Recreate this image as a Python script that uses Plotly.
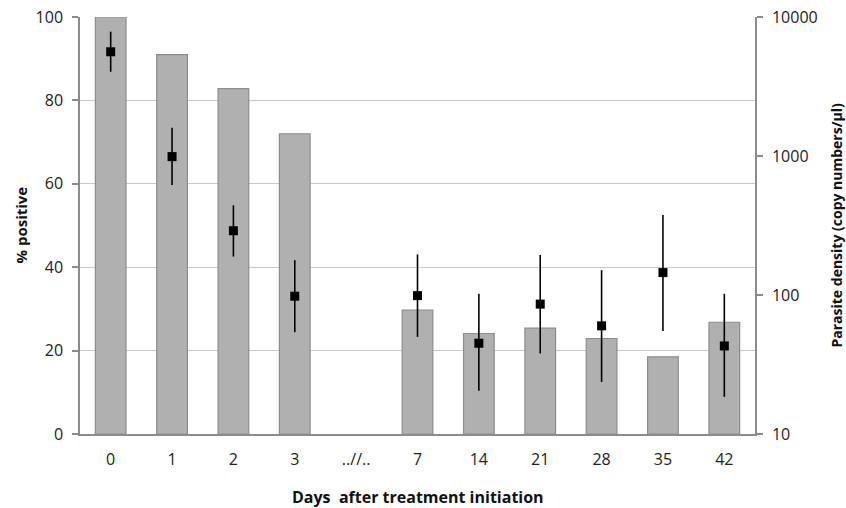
import plotly.graph_objects as go

days = ["0", "1", "2", "3", "..//..", "7", "14", "21", "28", "35", "42"]
pct_positive = [100, 91.0, 82.8, 72.0, None, 29.7, 24.1, 25.4, 22.9, 18.5, 26.8]
density = [5620, 990, 290, 98, None, 99, 45, 86, 60, 145, 43]
density_upper = [7840, 1600, 442, 178, None, 196, 102, 194, 151, 376, 102]
density_lower = [4040, 619, 189, 54, None, 50, 20.5, 38, 23.7, 55, 18.5]

err_plus = [None if d is None else u - d for d, u in zip(density, density_upper)]
err_minus = [None if d is None else d - l for d, l in zip(density, density_lower)]

font_family = "Open Sans, Liberation Sans, sans-serif"
L, R, T, B = 80, 91, 17, 74
W, H = 846, 508
pw, ph = W - L - R, H - T - B

fig = go.Figure()
fig.add_trace(go.Bar(
    x=days, y=pct_positive,
    marker=dict(color="#b0b0b0", line=dict(color="#8c8c8c", width=1.2)),
    yaxis="y", showlegend=False,
))
fig.add_trace(go.Scatter(
    x=days, y=density, mode="markers",
    marker=dict(symbol="square", size=9, color="black"),
    error_y=dict(type="data", symmetric=False, array=err_plus, arrayminus=err_minus,
                 color="black", thickness=1.6, width=0),
    yaxis="y2", showlegend=False,
))

fig.update_layout(
    width=W, height=H,
    margin=dict(l=L, r=R, t=T, b=B),
    paper_bgcolor="white", plot_bgcolor="white",
    bargap=0.5,
    font=dict(family=font_family, size=16, color="#222"),
    xaxis=dict(
        type="category", categoryorder="array", categoryarray=days,
        range=[-0.5, len(days) - 0.5],
        showline=True, linecolor="#8c8c8c", linewidth=1.5,
        ticks="", showgrid=False, automargin=False,
        tickfont=dict(size=16, color="#222"),
        ticklabelstandoff=10,
    ),
    yaxis=dict(
        range=[0, 100], tickvals=[0, 20, 40, 60, 80, 100],
        showline=True, linecolor="#8c8c8c", linewidth=1.5,
        ticks="outside", ticklen=6, tickcolor="#8c8c8c", tickwidth=1.5,
        showgrid=True, gridcolor="#c8c8c8", gridwidth=1.3,
        zeroline=False, automargin=False,
        tickfont=dict(size=16, color="#222"),
        ticklabelstandoff=6,
    ),
    yaxis2=dict(
        type="log", range=[1, 4], overlaying="y", side="right",
        tickvals=[10, 100, 1000, 10000], ticktext=["10", "100", "1000", "10000"],
        showline=True, linecolor="#8c8c8c", linewidth=1.5,
        ticks="outside", ticklen=6, tickcolor="#8c8c8c", tickwidth=1.5,
        showgrid=False, zeroline=False, automargin=False,
        tickfont=dict(size=16, color="#222"),
        ticklabelstandoff=6,
    ),
    annotations=[
        dict(text="<b>% positive</b>", xref="paper", yref="paper",
             x=(20 - L) / pw, y=0.5, xanchor="center", yanchor="middle",
             textangle=-90, showarrow=False, font=dict(size=15, color="#111")),
        dict(text="<b>Parasite density (copy numbers/µl)</b>", xref="paper", yref="paper",
             x=(836 - L) / pw, y=0.5, xanchor="center", yanchor="middle",
             textangle=-90, showarrow=False, font=dict(size=14, color="#111")),
        dict(text="<b>Days  after treatment initiation</b>", xref="paper", yref="paper",
             x=0.5, y=(H - B - 497) / ph, xanchor="center", yanchor="middle",
             showarrow=False, font=dict(size=16, color="#111")),
    ],
)

fig.write_html("out.html", config={"displayModeBar": False},
               post_script="document.body.style.margin='0';")
